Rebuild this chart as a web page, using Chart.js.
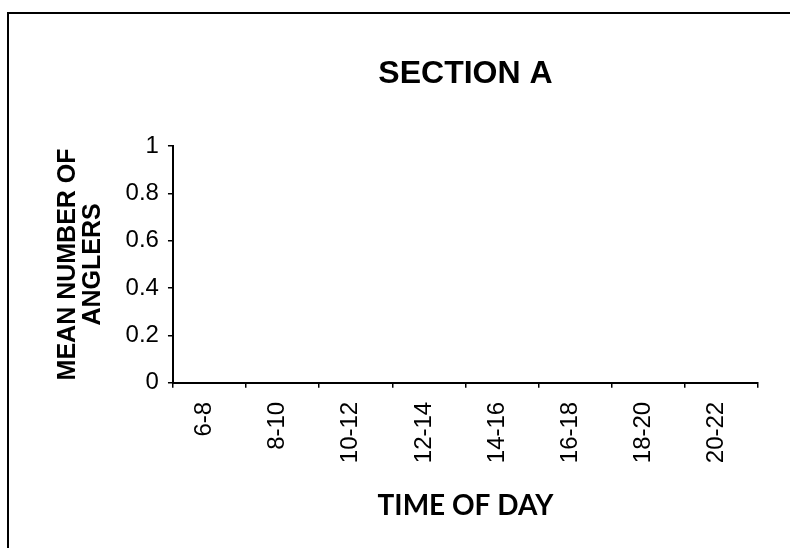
<!DOCTYPE html>
<html>
<head>
<meta charset="utf-8">
<script src="https://cdn.jsdelivr.net/npm/chart.js@4/dist/chart.umd.min.js"></script>
<style>
  html, body { margin: 0; padding: 0; background: #fff; overflow: hidden; }
  #frame {
    position: absolute; left: 7px; top: 12px;
    width: 960px; height: 600px;
    border-top: 2px solid #000; border-left: 2px solid #000;
    background: #fff;
  }
  #chart { position: absolute; left: 0; top: 2px; }
</style>
</head>
<body>
<div id="frame"><canvas id="chart" width="900" height="532"></canvas></div>
<script>
// Two-hour time blocks across the fishing day
const timeBlocks = ['6-8', '8-10', '10-12', '12-14', '14-16', '16-18', '18-20', '20-22'];
// Mean number of anglers counted in Section A for each block
const meanAnglers = [0, 0, 0, 0, 0, 0, 0, 0];
// Vertical axis range and step
const yMin = 0;
const yMax = 1;
const yStep = 0.2;

const chartTitle = 'SECTION A';
const xTitle = 'TIME OF DAY';
const yTitle = ['MEAN NUMBER OF', 'ANGLERS'];

const tickFont = { family: '"Liberation Sans", Arial, sans-serif', size: 24 };

new Chart(document.getElementById('chart'), {
  type: 'bar',
  data: {
    labels: timeBlocks,
    datasets: [{
      label: 'Mean anglers',
      data: meanAnglers,
      backgroundColor: '#000',
      borderWidth: 0
    }]
  },
  options: {
    responsive: false,
    animation: false,
    devicePixelRatio: 1,
    layout: { padding: { left: 47, right: 151, top: 16, bottom: 24.8 } },
    plugins: {
      legend: { display: false },
      tooltip: { enabled: false },
      title: {
        display: true,
        text: chartTitle,
        fullSize: false,
        color: '#000',
        font: { family: '"Liberation Sans", Arial, sans-serif', size: 32, weight: 'bold', lineHeight: 1.2 },
        padding: { top: 22.8, bottom: 52.8 }
      }
    },
    scales: {
      x: {
        offset: true,
        grid: {
          offset: true,
          drawOnChartArea: false,
          drawTicks: true,
          tickLength: 5,
          color: '#000',
          lineWidth: 1.5
        },
        border: { display: true, color: '#000', width: 2 },
        ticks: {
          color: '#000',
          font: tickFont,
          minRotation: 90,
          maxRotation: 90,
          padding: 14,
          labelOffset: -5,
          autoSkip: false
        },
        title: {
          display: true,
          text: xTitle,
          color: '#000',
          font: { family: 'Lato, "Open Sans", sans-serif', size: 28, weight: 'bold', lineHeight: 1.2 },
          padding: { top: 12.4, bottom: 0 }
        }
      },
      y: {
        min: yMin,
        max: yMax,
        grid: {
          drawOnChartArea: false,
          drawTicks: true,
          tickLength: 5,
          color: '#000',
          lineWidth: 1.5
        },
        border: { display: true, color: '#000', width: 2 },
        ticks: {
          stepSize: yStep,
          color: '#000',
          font: tickFont,
          padding: 9,
          callback: (v) => String(Number(v.toFixed(1)))
        },
        title: {
          display: true,
          text: yTitle,
          color: '#000',
          font: { family: '"Liberation Sans", Arial, sans-serif', size: 25, weight: 'bold', lineHeight: 1.0 },
          padding: { top: 0, bottom: 10.6 }
        }
      }
    }
  }
});
</script>
</body>
</html>
